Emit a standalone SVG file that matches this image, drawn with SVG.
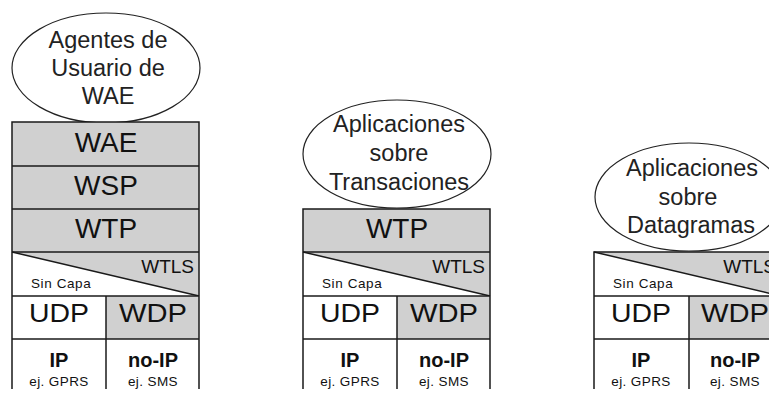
<svg xmlns="http://www.w3.org/2000/svg" width="769" height="399" viewBox="0 0 769 399">
<style>
.bg{fill:#ffffff}
.g{fill:#d0d0d0}
.ln{stroke:#1a1a1a;stroke-width:1.5;fill:none}
.el{fill:#ffffff;stroke:#222;stroke-width:1.2}
.t{font-family:"Liberation Sans",Arial,sans-serif;fill:#111;text-anchor:middle}
.big{font-size:28px}
.mid{font-size:25px}
.el-t{font-size:23.5px;fill:#222}
.wtls{font-size:19px;text-anchor:end}
.sin{font-size:13.5px;text-anchor:start;letter-spacing:0.6px}
.bold{font-size:20px;font-weight:bold}
.sm{font-size:13.5px;letter-spacing:0.4px}
</style>
<rect class="bg" x="0" y="0" width="769" height="399"/>

<g id="stack1">
  <g id="ellipse1">
    <ellipse class="el" cx="106" cy="68" rx="94" ry="55"/>
    <text class="t el-t" x="108" y="48">Agentes de</text>
    <text class="t el-t" x="108" y="76">Usuario de</text>
    <text class="t el-t" x="108" y="104">WAE</text>
  </g>
  <g id="wae1"><rect class="g" x="12" y="122" width="187" height="44"/><text class="t big" x="106" y="152">WAE</text></g>
  <g id="wsp1"><rect class="g" x="12" y="166" width="187" height="43"/><text class="t big" x="106" y="195">WSP</text></g>
  <g id="wtp1"><rect class="g" x="12" y="209" width="187" height="43"/><text class="t big" x="106" y="238">WTP</text></g>
  <g id="wtls1">
    <polygon class="g" points="12,252 199,252 199,296"/>
    <line class="ln" x1="12" y1="252" x2="199" y2="296"/>
    <text class="t wtls" x="194" y="273">WTLS</text>
    <text class="t sin" x="31" y="288">Sin Capa</text>
  </g>
  <g id="udp1"><text class="t mid" x="59" y="322" textLength="60" lengthAdjust="spacingAndGlyphs">UDP</text></g>
  <g id="wdp1"><rect class="g" x="106" y="296" width="93" height="43"/><text class="t mid" x="153" y="322" textLength="68" lengthAdjust="spacingAndGlyphs">WDP</text></g>
  <g id="ip1"><text class="t bold" x="59" y="367">IP</text><text class="t sm" x="59" y="386">ej. GPRS</text></g>
  <g id="noip1"><text class="t bold" x="153" y="367">no-IP</text><text class="t sm" x="153" y="386">ej. SMS</text></g>
  <g id="lines1">
    <polyline class="ln" points="12,389 12,122 199,122 199,389"/>
    <line class="ln" x1="12" y1="166" x2="199" y2="166"/>
    <line class="ln" x1="12" y1="209" x2="199" y2="209"/>
    <line class="ln" x1="12" y1="252" x2="199" y2="252"/>
    <line class="ln" x1="12" y1="296" x2="199" y2="296"/>
    <line class="ln" x1="12" y1="339" x2="199" y2="339"/>
    <line class="ln" x1="106" y1="296" x2="106" y2="389"/>
  </g>
</g>

<g id="stack2">
  <g id="ellipse2">
    <ellipse class="el" cx="397" cy="154" rx="94" ry="54"/>
    <text class="t el-t" x="399" y="132">Aplicaciones</text>
    <text class="t el-t" x="399" y="161">sobre</text>
    <text class="t el-t" x="399" y="190">Transaciones</text>
  </g>
  <g id="wtp2"><rect class="g" x="303" y="209" width="187" height="43"/><text class="t big" x="397" y="238">WTP</text></g>
  <g id="wtls2">
    <polygon class="g" points="303,252 490,252 490,296"/>
    <line class="ln" x1="303" y1="252" x2="490" y2="296"/>
    <text class="t wtls" x="485" y="273">WTLS</text>
    <text class="t sin" x="322" y="288">Sin Capa</text>
  </g>
  <g id="udp2"><text class="t mid" x="350" y="322" textLength="60" lengthAdjust="spacingAndGlyphs">UDP</text></g>
  <g id="wdp2"><rect class="g" x="397" y="296" width="93" height="43"/><text class="t mid" x="444" y="322" textLength="68" lengthAdjust="spacingAndGlyphs">WDP</text></g>
  <g id="ip2"><text class="t bold" x="350" y="367">IP</text><text class="t sm" x="350" y="386">ej. GPRS</text></g>
  <g id="noip2"><text class="t bold" x="444" y="367">no-IP</text><text class="t sm" x="444" y="386">ej. SMS</text></g>
  <g id="lines2">
    <polyline class="ln" points="303,389 303,209 490,209 490,389"/>
    <line class="ln" x1="303" y1="252" x2="490" y2="252"/>
    <line class="ln" x1="303" y1="296" x2="490" y2="296"/>
    <line class="ln" x1="303" y1="339" x2="490" y2="339"/>
    <line class="ln" x1="397" y1="296" x2="397" y2="389"/>
  </g>
</g>

<g id="stack3">
  <g id="ellipse3">
    <ellipse class="el" cx="689" cy="197" rx="94" ry="54"/>
    <text class="t el-t" x="692" y="176">Aplicaciones</text>
    <text class="t el-t" x="688" y="205">sobre</text>
    <text class="t el-t" x="691" y="233">Datagramas</text>
  </g>
  <g id="wtls3">
    <polygon class="g" points="594,252 781,252 781,296"/>
    <line class="ln" x1="594" y1="252" x2="781" y2="296"/>
    <text class="t wtls" x="776" y="273">WTLS</text>
    <text class="t sin" x="613" y="288">Sin Capa</text>
  </g>
  <g id="udp3"><text class="t mid" x="641" y="322" textLength="60" lengthAdjust="spacingAndGlyphs">UDP</text></g>
  <g id="wdp3"><rect class="g" x="689" y="296" width="92" height="43"/><text class="t mid" x="735" y="322" textLength="68" lengthAdjust="spacingAndGlyphs">WDP</text></g>
  <g id="ip3"><text class="t bold" x="641" y="367">IP</text><text class="t sm" x="641" y="386">ej. GPRS</text></g>
  <g id="noip3"><text class="t bold" x="735" y="367">no-IP</text><text class="t sm" x="735" y="386">ej. SMS</text></g>
  <g id="lines3">
    <polyline class="ln" points="594,389 594,252 781,252 781,389"/>
    <line class="ln" x1="594" y1="296" x2="781" y2="296"/>
    <line class="ln" x1="594" y1="339" x2="781" y2="339"/>
    <line class="ln" x1="689" y1="296" x2="689" y2="389"/>
  </g>
</g>

<g id="connectors"></g>
</svg>
